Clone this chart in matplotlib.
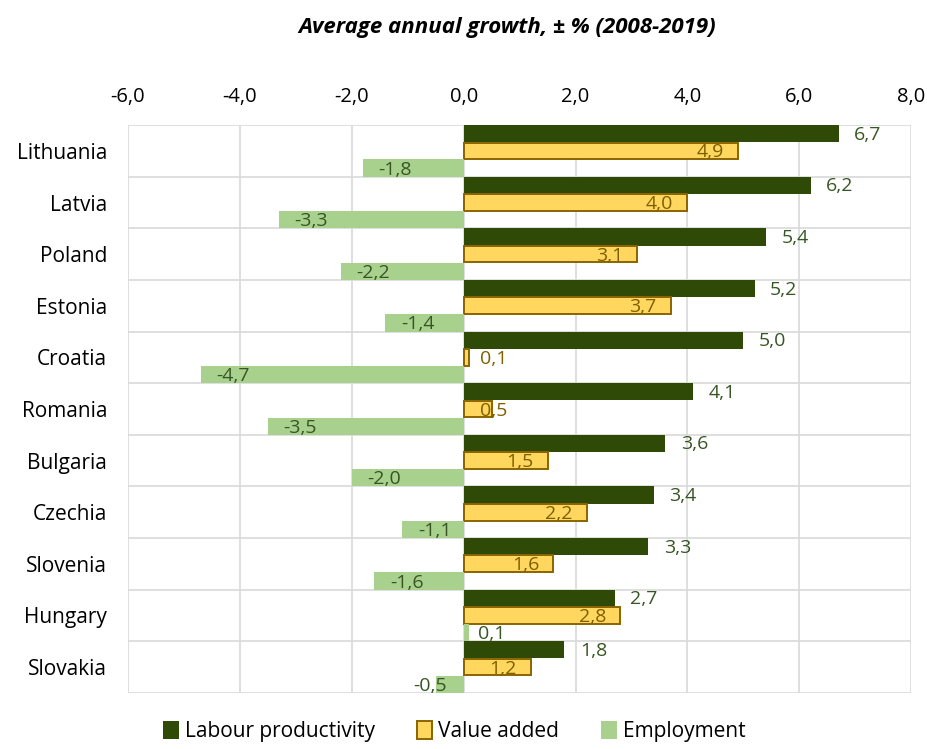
import matplotlib.pyplot as plt
import numpy as np

# Datos del grafico
paises = ["Lithuania", "Latvia", "Poland", "Estonia", "Croatia", "Romania",
          "Bulgaria", "Czechia", "Slovenia", "Hungary", "Slovakia"]
productividad = [6.7, 6.2, 5.4, 5.2, 5.0, 4.1, 3.6, 3.4, 3.3, 2.7, 1.8]
valor_agregado = [4.9, 4.0, 3.1, 3.7, 0.1, 0.5, 1.5, 2.2, 1.6, 2.8, 1.2]
empleo = [-1.8, -3.3, -2.2, -1.4, -4.7, -3.5, -2.0, -1.1, -1.6, 0.1, -0.5]
ticks_x = [-6, -4, -2, 0, 2, 4, 6, 8]

plt.rcParams['font.family'] = ['Open Sans', 'DejaVu Sans']

c_prod = '#2f4a07'
c_va = '#ffd75e'
c_va_borde = '#8a6400'
c_emp = '#a9d18e'
c_txt_verde = '#375623'
c_txt_marron = '#7f6000'


def fmt(v):
    return f"{v:.1f}".replace('.', ',')


fig = plt.figure(figsize=(9.27, 7.49), dpi=100)
ax = fig.add_axes([0.138, 0.075, 0.845, 0.758])

n = len(paises)
y = np.arange(n)
h = 1 / 3

# Rejilla
for xv in ticks_x:
    ax.axvline(xv, color='#d9d9d9', lw=1.2, zorder=0)
for yv in range(n + 1):
    ax.axhline(yv, color='#d9d9d9', lw=1.2, zorder=0)

ax.barh(y + h / 2, productividad, height=h, color=c_prod, zorder=2, label='Labour productivity')
ax.barh(y + 1.5 * h, valor_agregado, height=h * 0.97, color=c_va, edgecolor=c_va_borde,
        linewidth=1.4, zorder=2, label='Value added')
ax.barh(y + 2.5 * h, empleo, height=h, color=c_emp, zorder=2, label='Employment')

# Etiquetas de datos
fs = 14
for i in range(n):
    v = productividad[i]
    ax.text(v + 0.28, y[i] + h / 2 + 0.02, fmt(v), ha='left', va='center',
            color=c_txt_verde, fontsize=fs, zorder=3)
    v = valor_agregado[i]
    ax.text(max(v - 0.25, 0.78), y[i] + 1.5 * h + 0.03, fmt(v), ha='right', va='center',
            color=c_txt_marron, fontsize=fs, zorder=3)
    v = empleo[i]
    if v < -1:
        ax.text(v + 0.28, y[i] + 2.5 * h + 0.03, fmt(v), ha='left', va='center',
                color=c_txt_verde, fontsize=fs, zorder=3)
    elif v < 0:
        ax.text(v + 0.2, y[i] + 2.5 * h + 0.03, fmt(v), ha='right', va='center',
                color=c_txt_verde, fontsize=fs, zorder=3)
    else:
        ax.text(v + 0.15, y[i] + 2.5 * h + 0.03, fmt(v), ha='left', va='center',
                color=c_txt_verde, fontsize=fs, zorder=3)

ax.set_xlim(-6, 8)
ax.set_ylim(n, 0)
ax.set_xticks(ticks_x)
ax.set_xticklabels([fmt(t) for t in ticks_x], fontsize=14.5)
ax.xaxis.tick_top()
ax.tick_params(axis='x', length=0, pad=13)
ax.set_yticks(y + 0.5)
ax.set_yticklabels(paises, fontsize=15)
ax.tick_params(axis='y', length=0, pad=15)
for s in ax.spines.values():
    s.set_visible(False)

fig.text(0.547, 0.963, "Average annual growth, ± % (2008-2019)", ha='center', va='center',
         fontsize=16, fontweight='bold', fontstyle='italic')

fig.legend(loc='lower center', bbox_to_anchor=(0.49, -0.016), ncol=3, frameon=False,
           fontsize=15, handlelength=0.75, handleheight=1.0, handletextpad=0.3,
           columnspacing=2.0)

fig.savefig('out.png', dpi=100)
